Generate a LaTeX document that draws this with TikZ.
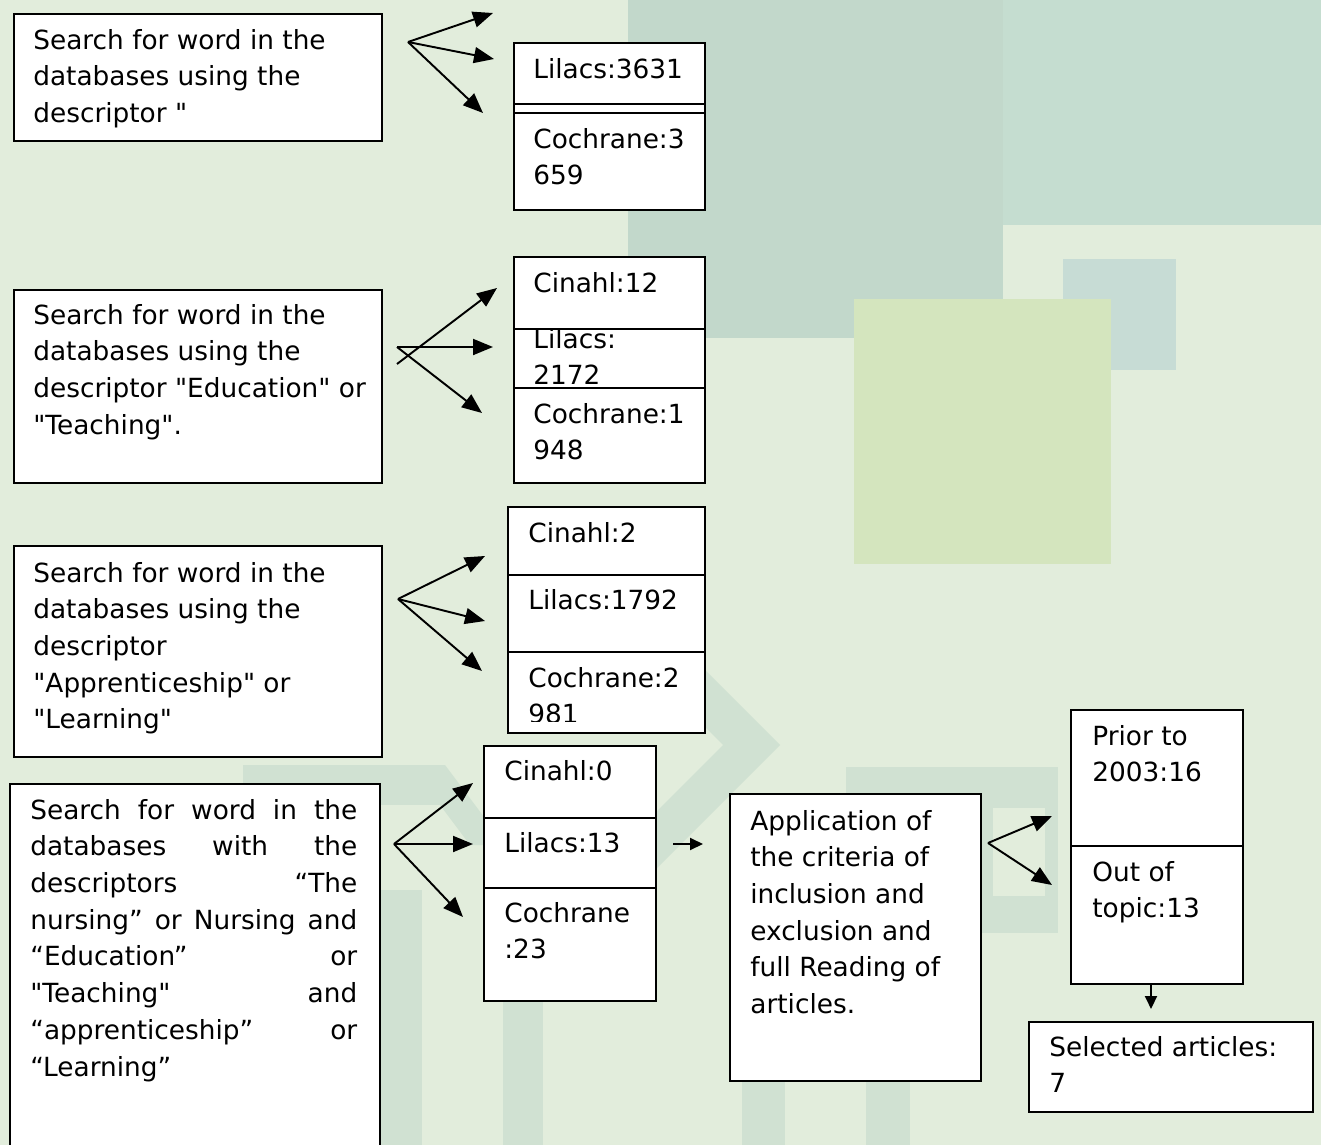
\documentclass[tikz,border=0pt]{standalone}
\usepackage{fontspec}
\setmainfont[Ligatures=TeXOff]{DejaVu Sans}
\usetikzlibrary{arrows.meta}

\definecolor{paper}{RGB}{226,237,220}
\definecolor{tileA}{RGB}{194,216,203}
\definecolor{tileB}{RGB}{197,221,208}
\definecolor{tileC}{RGB}{199,220,213}
\definecolor{tileD}{RGB}{212,229,190}
\definecolor{band}{RGB}{208,225,210}

\tikzset{
  box/.style={draw, fill=white, line width=1.1pt, anchor=north west, inner sep=0pt},
  txt/.style={anchor=north west, inner sep=0pt, align=left, font=\fontsize{15}{20.9}\selectfont},
  link/.style={->, line width=1.1pt},
  short/.style={-{Triangle[length=0.26cm,width=0.24cm]}, line width=1.1pt}
}

\begin{document}
\begin{tikzpicture}[x=0.02cm, y=-0.02cm, >={Triangle[length=0.4cm,width=0.32cm]}]
  \useasboundingbox (0,0) rectangle (1321,1145);
  \clip (0,0) rectangle (1321,1145);
  % background
  \fill[paper] (0,0) rectangle (1321,1145);
  \fill[tileA] (628,0) rectangle (1003,338);
  \fill[tileB] (1003,0) rectangle (1321,225);
  \fill[tileC] (1063,259) rectangle (1176,370);
  \fill[tileD] (854,299) rectangle (1111,564);
  \fill[band] (780,745) -- (635,600) -- (578,600) -- (723,745) -- (578,890) -- (635,890) -- cycle;
  \fill[band] (243,765) rectangle (445,805);
  \fill[band] (410,765) -- (445,765) -- (505,845) -- (470,845) -- cycle;
  \fill[band] (380,890) rectangle (422,1145);
  \fill[band] (503,1000) rectangle (543,1145);
  \fill[band] (846,767) rectangle (1058,933);
  \fill[paper] (993,808) rectangle (1045,896);
  \fill[band] (742,1075) rectangle (785,1145);
  \fill[band] (866,1060) rectangle (910,1145);

  % search boxes
  \node[box, minimum width=7.36cm, minimum height=2.54cm] (s1) at (13,13) {};
  \node[txt] (s1t) at ([shift={(20,10)}]s1.north west) {\strut Search for word in the\\databases using the\\descriptor "};
  \node[box, minimum width=7.36cm, minimum height=3.86cm] (s2) at (13,289) {};
  \node[txt] (s2t) at ([shift={(20,9)}]s2.north west) {\strut Search for word in the\\databases using the\\descriptor "Education" or\\"Teaching".};
  \node[box, minimum width=7.36cm, minimum height=4.22cm] (s3) at (13,545) {};
  \node[txt] (s3t) at ([shift={(20,11)}]s3.north west) {\strut Search for word in the\\databases using the\\descriptor\\"Apprenticeship" or\\"Learning"};
  \node[box, minimum width=7.4cm, minimum height=7.6cm] (s4) at (9,783) {};
  \node[txt] (s4t) at ([shift={(21,10)}]s4.north west) {\parbox{6.54cm}{\strut Search for word in the\linebreak databases with the\linebreak descriptors “The\linebreak nursing” or Nursing and\linebreak “Education” or\linebreak "Teaching" and\linebreak “apprenticeship” or\linebreak “Learning”}};

  % first group
  \node[box, minimum width=3.82cm, minimum height=1.22cm] (lil1) at (513,42) {};
  \node[txt] (lil1t) at ([shift={(20,10)}]lil1.north west) {\strut Lilacs:3631};
  \node[box, minimum width=3.82cm, minimum height=0.18cm] (gap1) at (513,103) {};
  \node[box, minimum width=3.82cm, minimum height=1.94cm] (coc1) at (513,112) {};
  \node[txt] (coc1t) at ([shift={(20,10)}]coc1.north west) {\strut Cochrane:3\\659};

  % second group
  \node[box, minimum width=3.82cm, minimum height=1.18cm] (lil2) at (513,328) {};
  \node[txt] (lil2t) at ([shift={(20,-6)}]lil2.north west) {\strut Lilacs:\\2172};
  \node[box, minimum width=3.82cm, minimum height=1.44cm] (cin2) at (513,256) {};
  \node[txt] (cin2t) at ([shift={(20,10)}]cin2.north west) {\strut Cinahl:12};
  \node[box, minimum width=3.82cm, minimum height=1.90cm] (coc2) at (513,387) {};
  \node[txt] (coc2t) at ([shift={(20,10)}]coc2.north west) {\strut Cochrane:1\\948};

  % third group
  \node[box, minimum width=3.94cm, minimum height=1.36cm] (cin3) at (507,506) {};
  \node[txt] (cin3t) at ([shift={(21,10)}]cin3.north west) {\strut Cinahl:2};
  \node[box, minimum width=3.94cm, minimum height=1.54cm] (lil3) at (507,574) {};
  \node[txt] (lil3t) at ([shift={(21,9)}]lil3.north west) {\strut Lilacs:1792};
  \node[box, minimum width=3.94cm, minimum height=1.62cm] (coc3) at (507,651) {};
  \begin{scope}
    \clip (507,651) rectangle (704,721);
    \node[txt] (coc3t) at ([shift={(21,10)}]coc3.north west) {\strut Cochrane:2\\981};
  \end{scope}

  % fourth group
  \node[box, minimum width=3.44cm, minimum height=1.44cm] (cin4) at (483,745) {};
  \node[txt] (cin4t) at ([shift={(21,9)}]cin4.north west) {\strut Cinahl:0};
  \node[box, minimum width=3.44cm, minimum height=1.40cm] (lil4) at (483,817) {};
  \node[txt] (lil4t) at ([shift={(21,9)}]lil4.north west) {\strut Lilacs:13};
  \node[box, minimum width=3.44cm, minimum height=2.26cm] (coc4) at (483,887) {};
  \node[txt] (coc4t) at ([shift={(21,9)}]coc4.north west) {\strut Cochrane\\:23};

  % criteria and results
  \node[box, minimum width=5.02cm, minimum height=5.74cm] (app) at (729,793) {};
  \node[txt] (appt) at ([shift={(21,11)}]app.north west) {\strut Application of\\the criteria of\\inclusion and\\exclusion and\\full Reading of\\articles.};
  \node[box, minimum width=3.44cm, minimum height=2.72cm] (prior) at (1070,709) {};
  \node[txt] (priort) at ([shift={(22,10)}]prior.north west) {\strut Prior to\\2003:16};
  \node[box, minimum width=3.44cm, minimum height=2.76cm] (off) at (1070,845) {};
  \node[txt] (offt) at ([shift={(22,10)}]off.north west) {\strut Out of\\topic:13};
  \node[box, minimum width=5.68cm, minimum height=1.80cm] (sel) at (1028,1021) {};
  \node[txt] (selt) at ([shift={(21,9)}]sel.north west) {\strut Selected articles:\\7};

  % arrows
  \coordinate (f1) at (408,42);
  \coordinate (f1a) at (493,13);
  \coordinate (f1b) at (494,59);
  \coordinate (f1c) at (483,113);
  \draw[link] (f1) -- (f1a);
  \draw[link] (f1) -- (f1b);
  \draw[link] (f1) -- (f1c);
  \coordinate (f2) at (397,347);
  \coordinate (f2x) at (397,364);
  \coordinate (f2a) at (497,288);
  \coordinate (f2b) at (493,347);
  \coordinate (f2c) at (482,413);
  \draw[link] (f2x) -- (f2a);
  \draw[link] (f2) -- (f2b);
  \draw[link] (f2) -- (f2c);
  \coordinate (f3) at (398,599);
  \coordinate (f3a) at (485,556);
  \coordinate (f3b) at (485,621);
  \coordinate (f3c) at (482,671);
  \draw[link] (f3) -- (f3a);
  \draw[link] (f3) -- (f3b);
  \draw[link] (f3) -- (f3c);
  \coordinate (f4) at (394,844);
  \coordinate (f4a) at (473,783);
  \coordinate (f4b) at (473,844);
  \coordinate (f4c) at (463,917);
  \draw[link] (f4) -- (f4a);
  \draw[link] (f4) -- (f4b);
  \draw[link] (f4) -- (f4c);
  \coordinate (m1) at (673,844);
  \coordinate (m2) at (703,844);
  \draw[short] (m1) -- (m2);
  \coordinate (f5) at (988,843);
  \coordinate (f5a) at (1052,816);
  \coordinate (f5b) at (1052,885);
  \draw[link] (f5) -- (f5a);
  \draw[link] (f5) -- (f5b);
  \coordinate (d1) at (1151,984);
  \coordinate (d2) at (1151,1009);
  \draw[short] (d1) -- (d2);
\end{tikzpicture}
\end{document}
